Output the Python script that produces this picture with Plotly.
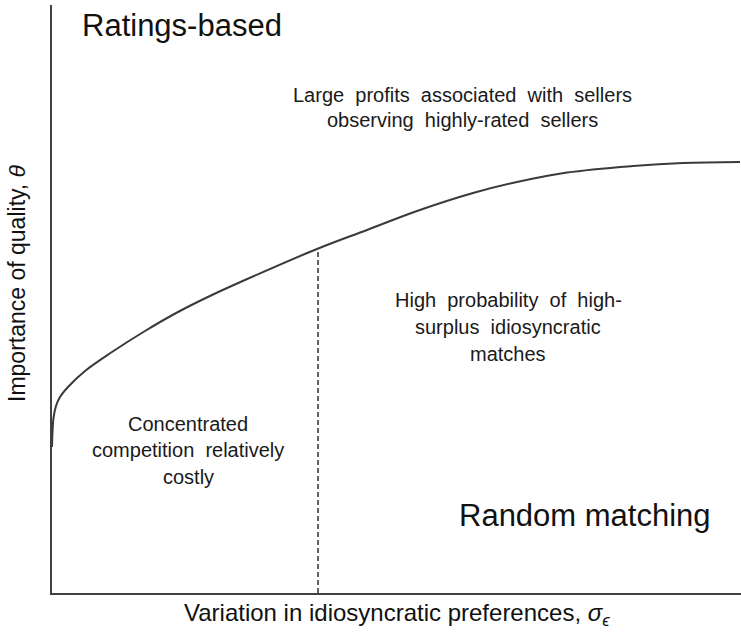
import plotly.graph_objects as go

# Boundary curve (conceptual units)
curve_x = [0, 0.5, 1.5, 4, 8, 16, 33, 60, 93, 126, 160, 193, 265, 315, 365, 421, 465, 515, 581, 631, 688]
curve_y = [146, 161, 175, 187, 196, 206, 222, 241, 262, 281, 298, 313, 344, 363, 382, 400, 411, 420.5, 427, 430, 431]

# Dashed divider
divider_x = 266
divider_top = 344

x_range = [0, 689]
y_range = [0, 588]

region_labels = ["Ratings-based", "Random matching"]
region_x = [28, 405]
region_y = [568, 78]

note_lines = [
    "Large  profits  associated  with  sellers",
    "observing  highly-rated  sellers",
    "High  probability  of  high-",
    "surplus  idiosyncratic",
    "matches",
    "Concentrated",
    "competition  relatively",
    "costly",
]
note_x = [410, 410, 456, 456, 456, 136, 136, 136]
note_y = [498, 473, 293, 266, 239, 169, 143, 116]

x_title = "Variation in idiosyncratic preferences, <i>σ<sub>ϵ</sub></i>"
y_title = "Importance of quality, <i>θ</i>"

FONT = "Liberation Sans, Arial, sans-serif"

fig = go.Figure()
fig.add_trace(go.Scatter(x=curve_x, y=curve_y, mode="lines",
                         line=dict(color="#3a3a3a", width=2, shape="spline", smoothing=1.0),
                         hoverinfo="skip", showlegend=False))
fig.add_trace(go.Scatter(x=[divider_x, divider_x], y=[0, divider_top], mode="lines",
                         line=dict(color="#111111", width=1.3, dash="5px,3px"),
                         hoverinfo="skip", showlegend=False))

for t, x, y in zip(region_labels, region_x, region_y):
    fig.add_annotation(x=x, y=y, text=t, showarrow=False, xanchor="left", yanchor="middle",
                       font=dict(family=FONT, size=31, color="#111111"))
for t, x, y in zip(note_lines, note_x, note_y):
    fig.add_annotation(x=x, y=y, text=t.replace("  ", "&nbsp; "), showarrow=False,
                       xanchor="center", yanchor="middle",
                       font=dict(family=FONT, size=20, color="#1a1a1a"))

fig.add_annotation(xref="paper", yref="paper", x=0.5, y=-0.036, text=x_title, showarrow=False,
                   xanchor="center", yanchor="middle", font=dict(family=FONT, size=24, color="#111111"))
fig.add_annotation(xref="paper", yref="paper", x=-0.051, y=0.527, text=y_title, showarrow=False,
                   textangle=-90, xanchor="center", yanchor="middle",
                   font=dict(family=FONT, size=23, color="#111111"))

fig.update_xaxes(range=x_range, showgrid=False, zeroline=False, showticklabels=False, ticks="",
                 showline=True, linecolor="#404040", linewidth=1.5)
fig.update_yaxes(range=y_range, showgrid=False, zeroline=False, showticklabels=False, ticks="",
                 showline=True, linecolor="#404040", linewidth=1.5)

fig.update_layout(width=741, height=634, margin=dict(l=52, r=0, t=5, b=41),
                  plot_bgcolor="white", paper_bgcolor="white", showlegend=False)

fig.write_html("out.html", config={"displayModeBar": False},
               post_script="document.body.style.margin='0';document.body.style.overflow='hidden';")
